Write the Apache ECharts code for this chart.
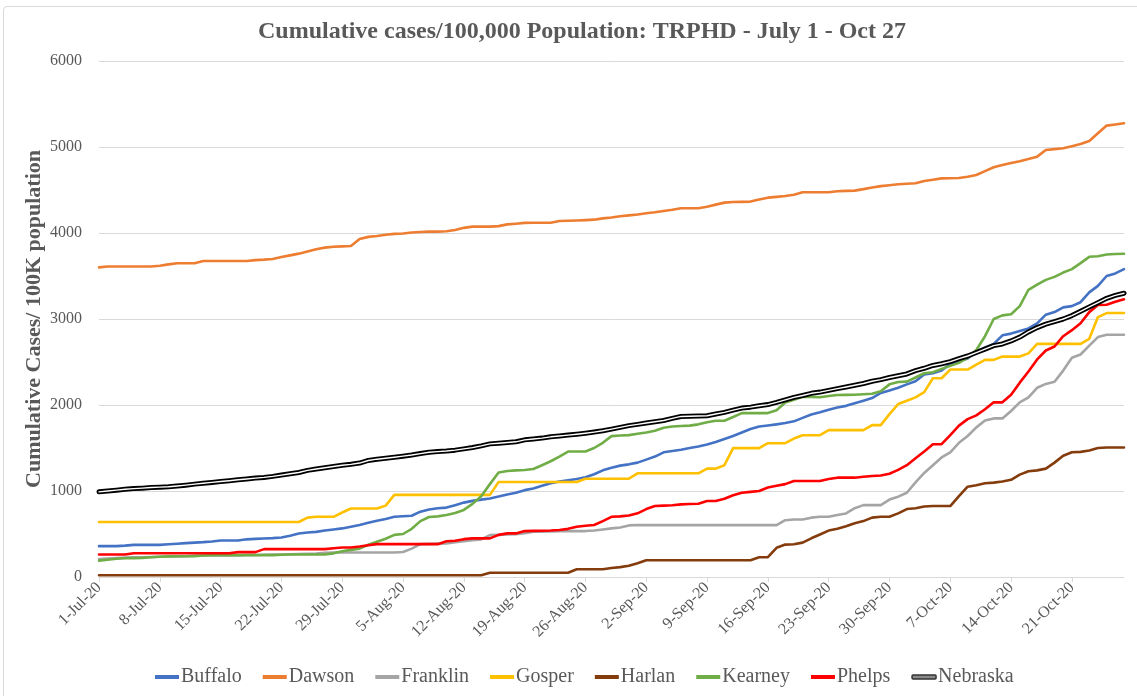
<!DOCTYPE html>
<html>
<head>
<meta charset="utf-8">
<script src="https://cdn.jsdelivr.net/npm/echarts@6/dist/echarts.min.js"></script>
<style>
html,body{margin:0;padding:0;background:#fff;}
#frame{position:absolute;left:3px;top:6px;width:1160px;height:720px;border:1px solid #d9d9d9;border-radius:4px;pointer-events:none;}
#chart{position:absolute;left:0;top:0;width:1137px;height:696px;}
</style>
</head>
<body>
<div id="frame"></div>
<div id="chart"></div>
<script>
const dates = [
"1-Jul-20","2-Jul-20","3-Jul-20","4-Jul-20","5-Jul-20","6-Jul-20","7-Jul-20","8-Jul-20","9-Jul-20","10-Jul-20",
"11-Jul-20","12-Jul-20","13-Jul-20","14-Jul-20","15-Jul-20","16-Jul-20","17-Jul-20","18-Jul-20","19-Jul-20","20-Jul-20",
"21-Jul-20","22-Jul-20","23-Jul-20","24-Jul-20","25-Jul-20","26-Jul-20","27-Jul-20","28-Jul-20","29-Jul-20","30-Jul-20","31-Jul-20",
"1-Aug-20","2-Aug-20","3-Aug-20","4-Aug-20","5-Aug-20","6-Aug-20","7-Aug-20","8-Aug-20","9-Aug-20","10-Aug-20",
"11-Aug-20","12-Aug-20","13-Aug-20","14-Aug-20","15-Aug-20","16-Aug-20","17-Aug-20","18-Aug-20","19-Aug-20","20-Aug-20",
"21-Aug-20","22-Aug-20","23-Aug-20","24-Aug-20","25-Aug-20","26-Aug-20","27-Aug-20","28-Aug-20","29-Aug-20","30-Aug-20","31-Aug-20",
"1-Sep-20","2-Sep-20","3-Sep-20","4-Sep-20","5-Sep-20","6-Sep-20","7-Sep-20","8-Sep-20","9-Sep-20","10-Sep-20",
"11-Sep-20","12-Sep-20","13-Sep-20","14-Sep-20","15-Sep-20","16-Sep-20","17-Sep-20","18-Sep-20","19-Sep-20","20-Sep-20",
"21-Sep-20","22-Sep-20","23-Sep-20","24-Sep-20","25-Sep-20","26-Sep-20","27-Sep-20","28-Sep-20","29-Sep-20","30-Sep-20",
"1-Oct-20","2-Oct-20","3-Oct-20","4-Oct-20","5-Oct-20","6-Oct-20","7-Oct-20","8-Oct-20","9-Oct-20","10-Oct-20",
"11-Oct-20","12-Oct-20","13-Oct-20","14-Oct-20","15-Oct-20","16-Oct-20","17-Oct-20","18-Oct-20","19-Oct-20","20-Oct-20",
"21-Oct-20","22-Oct-20","23-Oct-20","24-Oct-20","25-Oct-20","26-Oct-20","27-Oct-20"
];

const buffalo = [
359,359,359,365,374,374,374,
374,380,386,394,400,405,413,
425,425,425,438,443,448,452,
460,480,505,517,525,540,552,
565,585,605,630,655,675,700,
706,712,760,785,800,807,835,
865,885,900,913,935,960,980,
1010,1030,1060,1090,1110,1125,1140,
1160,1195,1240,1270,1295,1310,1330,
1365,1400,1450,1465,1480,1500,1517,
1540,1570,1605,1640,1680,1720,1750,
1762,1775,1790,1810,1850,1890,1915,
1945,1970,1990,2020,2050,2080,2140,
2170,2200,2240,2275,2355,2370,2400,
2480,2510,2540,2620,2670,2710,2810,
2830,2860,2890,2950,3050,3080,3135,
3150,3195,3310,3385,3500,3530,3580
];

const dawson = [
3600,3610,3610,3610,3610,3610,3610,
3620,3635,3648,3648,3648,3675,3675,
3675,3675,3675,3675,3685,3690,3698,
3720,3740,3760,3784,3810,3830,3840,
3845,3849,3930,3955,3965,3980,3990,
3995,4005,4012,4016,4016,4020,4035,
4060,4074,4074,4074,4080,4100,4108,
4118,4120,4120,4120,4140,4142,4145,
4150,4155,4170,4180,4195,4205,4215,
4230,4241,4255,4270,4288,4288,4288,
4305,4330,4353,4360,4362,4365,4390,
4411,4420,4430,4445,4474,4474,4474,
4474,4485,4490,4493,4510,4530,4545,
4556,4567,4572,4578,4605,4620,4635,
4637,4640,4655,4675,4720,4765,4790,
4815,4835,4860,4888,4966,4975,4985,
5010,5035,5070,5160,5249,5262,5276
];

const franklin = [
210,215,220,225,230,230,232,
235,238,240,242,248,250,250,
250,250,252,255,255,258,260,
262,265,268,270,272,280,285,
285,285,285,285,285,285,285,
290,330,382,385,388,390,405,
417,428,437,487,490,495,499,
510,526,528,530,532,533,534,
534,540,552,565,575,600,604,
603,603,603,603,603,603,603,
603,603,603,603,603,603,603,
603,603,660,669,669,690,700,
700,720,739,800,836,836,836,
900,934,980,1100,1210,1300,1390,
1450,1560,1640,1740,1820,1844,1844,
1930,2030,2090,2200,2245,2270,2400,
2550,2587,2690,2790,2816,2816,2816
];

const gosper = [
640,640,640,640,640,640,640,
640,640,640,640,640,640,640,
640,640,640,640,640,640,640,
640,640,640,690,700,700,700,
750,796,796,796,796,830,955,
955,955,955,955,955,955,955,
955,955,955,955,1104,1104,1104,
1104,1104,1104,1104,1104,1104,1104,
1143,1143,1143,1143,1143,1143,1206,
1206,1206,1206,1206,1206,1206,1206,
1260,1260,1300,1498,1498,1498,1498,
1556,1556,1556,1610,1649,1649,1649,
1708,1708,1708,1708,1708,1766,1766,
1894,2011,2050,2089,2150,2311,2311,
2412,2412,2412,2470,2525,2525,2563,
2563,2563,2600,2711,2711,2711,2711,
2711,2711,2770,3022,3069,3069,3069
];

const harlan = [
20,20,20,20,20,20,20,
20,20,20,20,20,20,20,
20,20,20,20,20,20,20,
20,20,20,20,20,20,20,
20,20,20,20,20,20,20,
20,20,20,20,20,20,20,
20,20,20,50,50,50,50,
50,50,50,50,50,50,90,
90,90,90,105,115,130,160,
195,195,195,195,195,195,195,
195,195,195,195,195,195,230,
230,340,377,380,400,450,494,
540,560,590,625,650,690,700,
700,740,790,800,820,825,825,
825,940,1050,1066,1090,1097,1110,
1130,1190,1230,1240,1260,1330,1410,
1450,1455,1470,1500,1505,1505,1505
];

const kearney = [
190,200,212,218,220,222,230,
235,240,242,242,242,250,254,
254,254,254,254,254,254,254,
258,261,261,261,261,261,275,
300,315,330,375,410,445,490,
500,560,650,698,705,720,745,
780,850,940,1080,1215,1232,1240,
1245,1256,1300,1346,1400,1459,1459,
1459,1500,1560,1638,1645,1650,1665,
1680,1700,1735,1750,1755,1760,1775,
1800,1817,1817,1860,1906,1906,1906,
1906,1940,2030,2060,2097,2095,2090,
2105,2116,2118,2120,2125,2130,2160,
2240,2268,2272,2320,2369,2381,2420,
2455,2490,2550,2640,2800,3000,3042,
3055,3150,3340,3400,3455,3490,3540,
3580,3650,3723,3730,3750,3755,3758
];

const phelps = [
261,261,261,261,277,277,277,
277,277,277,277,277,277,277,
277,277,289,289,289,324,324,
324,324,324,324,324,324,335,
343,343,355,370,382,382,382,
382,382,382,382,382,415,421,
440,449,449,449,490,507,507,
534,536,538,540,546,560,585,
595,604,650,700,705,715,740,
790,826,830,835,844,848,852,
883,883,910,950,980,990,1000,
1040,1060,1080,1116,1116,1116,1116,
1140,1155,1155,1155,1165,1175,1180,
1200,1245,1300,1380,1460,1544,1544,
1650,1760,1836,1880,1950,2031,2031,
2120,2260,2390,2530,2634,2680,2800,
2870,2950,3080,3162,3166,3200,3229
];

const nebraska = [
990,1000,1010,1020,1028,1033,1040,
1045,1050,1058,1068,1080,1090,1100,
1110,1120,1131,1140,1150,1158,1170,
1185,1200,1215,1240,1256,1270,1285,
1299,1310,1325,1355,1370,1380,1392,
1405,1418,1435,1450,1458,1465,1475,
1490,1505,1525,1548,1556,1564,1572,
1595,1605,1615,1630,1640,1650,1660,
1672,1685,1700,1720,1740,1760,1775,
1790,1805,1820,1845,1867,1870,1872,
1875,1895,1914,1940,1964,1975,1992,
2005,2030,2060,2089,2110,2136,2150,
2170,2190,2210,2230,2250,2276,2295,
2320,2340,2361,2400,2427,2460,2480,
2505,2540,2570,2610,2650,2690,2710,
2745,2790,2850,2900,2940,2970,3000,
3040,3090,3140,3190,3240,3275,3300
];

const seriesNames = ["Buffalo","Dawson","Franklin","Gosper","Harlan","Kearney","Phelps","Nebraska"];
const seriesData = [buffalo, dawson, franklin, gosper, harlan, kearney, phelps, nebraska];
const seriesColors = ["#4472C4","#ED7D31","#A5A5A5","#FFC000","#843C0C","#70AD47","#FF0000","#000000"];
const yTicks = {min:0, max:6000, interval:1000};

const FONT = "Liberation Serif";
const TXT = "#595959";

const series = [];
seriesNames.forEach((n,i)=>{
  const isNe = n === "Nebraska";
  series.push({
    name:n, type:"line", data:seriesData[i], symbol:"none",
    lineStyle:{color:seriesColors[i], width:isNe?5:2.6, cap:"round", join:"round"},
    itemStyle:{color:seriesColors[i]},
    emphasis:{disabled:true}, z:2+i
  });
});
series.push({
  name:"Nebraska-inner", type:"line", data:nebraska, symbol:"none", silent:true,
  lineStyle:{color:"#ffffff", width:1.4, cap:"round", join:"round"},
  itemStyle:{color:"#ffffff"}, emphasis:{disabled:true}, z:20
});

const legendData = seriesNames.map((n,i)=> n==="Nebraska"
  ? {name:n, icon:"roundRect", itemStyle:{color:"#8a8a8a", borderColor:"#333", borderWidth:1.5}}
  : {name:n, icon:"rect"});

const chart = echarts.init(document.getElementById("chart"), null, {renderer:"canvas"});
chart.setOption({
  animation:false,
  backgroundColor:"transparent",
  title:{
    text:"Cumulative cases/100,000 Population: TRPHD - July 1 - Oct 27",
    left:253, top:15,
    textStyle:{fontFamily:FONT, fontSize:24, fontWeight:"bold", color:TXT}
  },
  legend:{
    data:legendData, bottom:4, left:150,
    itemWidth:24, itemHeight:4, itemGap:21,
    textStyle:{fontFamily:FONT, fontSize:20, color:TXT, padding:[0,0,0,-3]}
  },
  grid:{left:99, right:13, top:61, bottom:119, containLabel:false},
  xAxis:{
    type:"category", data:dates, boundaryGap:false,
    axisLine:{lineStyle:{color:"#d9d9d9", width:1}},
    axisTick:{show:true, interval:6, length:5, lineStyle:{color:"#d9d9d9"}},
    axisLabel:{interval:6, rotate:45, fontFamily:FONT, fontSize:16, color:TXT, margin:8},
    splitLine:{show:false}
  },
  yAxis:{
    type:"value", min:yTicks.min, max:yTicks.max, interval:yTicks.interval,
    name:"Cumulative Cases/ 100K population", nameLocation:"middle", nameGap:54, nameMoveOverlap:false,
    nameTextStyle:{fontFamily:FONT, fontSize:22, fontWeight:"bold", color:TXT},
    axisLine:{show:false}, axisTick:{show:false},
    axisLabel:{fontFamily:FONT, fontSize:16, color:TXT, margin:17, formatter:function(v){return String(v);}},
    splitLine:{lineStyle:{color:"#d9d9d9", width:1}}
  },
  series:series
});
</script>
</body>
</html>
